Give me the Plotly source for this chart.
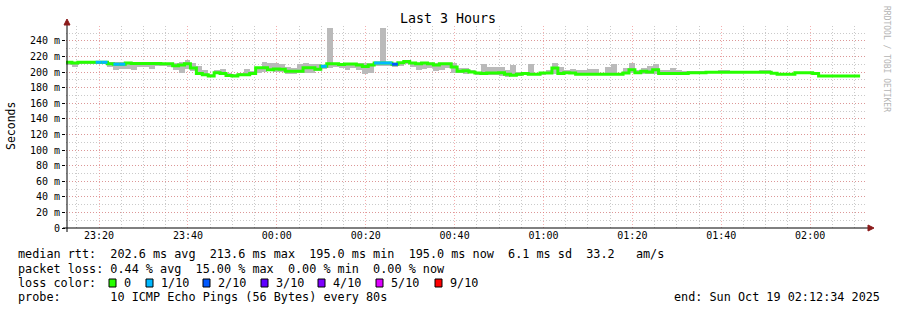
import pandas as pd
import plotly.graph_objects as go

# ---------------- data ----------------
start_time = "2025-10-18 23:12:34"
step_seconds = 80
n_slots = 135  # 3 hours / 80 s

median_ms = [
    212.5, 211.5, 212.5, 212.5, 212.5, 212.5, 212.5, 210.7, 210.0, 210.0,
    211.5, 211.0, 211.0, 211.0, 211.0, 211.0, 210.5, 210.5, 208.0, 209.0,
    210.7, 205.0, 198.0, 196.5, 195.0, 199.0, 198.0, 195.5, 195.0, 196.5,
    196.5, 198.0, 205.6, 205.6, 203.0, 204.0, 203.5, 201.0, 201.0, 201.0,
    205.5, 205.5, 203.5, 207.3, 210.7, 210.7, 209.5, 210.3, 210.3, 209.0,
    207.0, 209.0, 211.6, 211.6, 211.6, 210.0, 212.0, 213.6, 211.6, 210.7,
    211.6, 210.7, 209.0, 210.7, 210.7, 206.4, 201.0, 201.7, 200.0, 198.7,
    198.0, 198.7, 198.7, 199.0, 197.0, 195.7, 197.0, 198.0, 197.0, 197.0,
    198.7, 198.7, 205.0, 198.0, 199.0, 198.7, 197.0, 197.0, 197.0, 197.0,
    197.0, 197.0, 197.0, 197.0, 198.7, 203.0, 199.0, 201.0, 200.0, 203.0,
    198.0, 198.0, 198.0, 198.0, 198.0, 199.0, 199.0, 199.0, 199.6, 199.6,
    199.6, 199.6, 199.6, 199.6, 199.6, 199.6, 199.6, 199.6, 199.6, 198.3,
    197.0, 197.0, 197.0, 199.0, 199.0, 199.0, 198.0, 195.0, 195.0, 195.0,
    195.0, 195.0, 195.0, 195.0,
]

smoke_lo = [
    209, 206, 211, 211, 211, 211, 211, 207, 203, 204,
    204, 203, 207, 206, 204, 208, 208, 207, 202, 199,
    204, 201, 196, 196, 194.5, 197, 196, 194.5, 195, 196,
    196, 196, 199, 200, 201, 200, 200, 198, 198, 199,
    199, 199, 201, 204, 205, 206, 205, 203, 205, 203,
    198, 199, 208, 208, 208, 207, 208, 210, 207, 203,
    204, 205, 201, 203, 205, 199, 199, 198, 199, 197,
    196, 196, 196, 195, 194, 195, 195, 196, 196, 197,
    197, 197, 198, 198, 198, 197, 197, 197, 197, 197,
    197, 197, 197, 197, 197, 199, 197, 198, 197, 198,
    198, 198, 198, 198, 198, 199, 199, 199, 199.6, 199.6,
    199.6, 199.6, 199.6, 199.6, 199.6, 199.6, 199.6, 199.6, 199.6, 198.3,
    197, 197, 197, 199, 199, 199, 198, 195, 195, 195,
    195, 195, 195, 195,
]

smoke_hi = [
    213, 212, 213, 213, 213, 213, 213, 213, 213, 213,
    213, 212, 212, 212, 212, 212, 212, 212, 211, 213,
    215, 211, 208, 203, 197, 203, 204, 199, 197, 199,
    204, 201, 207, 213, 211, 212, 210, 206, 205, 210,
    211, 210, 210, 209, 257, 212, 211, 211, 212, 211,
    211, 212, 213, 257, 213, 212, 213, 214, 212, 211,
    213, 212, 211, 212, 212, 211, 205, 205, 203, 199,
    210, 207, 206, 207, 203, 209, 200, 199, 210, 199,
    199, 202, 212, 206, 203, 204, 203, 203, 204, 204,
    197, 206, 210, 197, 205.6, 212, 203, 205, 208, 210,
    203, 203, 205.6, 202, 201, 201, 201, 201, 199.6, 199.6,
    202, 202, 199.6, 199.6, 199.6, 199.6, 199.6, 202, 202, 198.3,
    197, 197, 197, 199, 199, 199, 198, 195, 195, 195,
    195, 195, 195, 195,
]

# packet loss (tenths) for slots that had losses; all others 0
loss_by_slot = {5: 1, 6: 1, 8: 1, 9: 1, 43: 1, 52: 1, 53: 1, 54: 1, 55: 2}

loss_labels = ["0", "1/10", "2/10", "3/10", "4/10", "5/10", "9/10"]
loss_levels = [0, 1, 2, 3, 4, 5, 9]
loss_colors = ["#26ff00", "#00b8ff", "#0059ff", "#5e00ff", "#7e00ff", "#dd00ff", "#ff0000"]

y_tick_vals = [0, 20, 40, 60, 80, 100, 120, 140, 160, 180, 200, 220, 240]
y_tick_text = ["0", "20 m", "40 m", "60 m", "80 m", "100 m", "120 m", "140 m",
               "160 m", "180 m", "200 m", "220 m", "240 m"]

title_text = "Last 3 Hours"
y_title = "Seconds"
legend_rows = [
    "median rtt:  202.6 ms avg  213.6 ms max  195.0 ms min  195.0 ms now  6.1 ms sd  33.2   am/s",
    "packet loss: 0.44 % avg  15.00 % max  0.00 % min  0.00 % now",
    "loss color:",
    "probe:       10 ICMP Echo Pings (56 Bytes) every 80s",
]
end_text = "end: Sun Oct 19 02:12:34 2025"
watermark = "RRDTOOL / TOBI OETIKER"

# ---------------- geometry ----------------
W, H = 897, 310
L, R, T, B = 66, 31, 26, 82
PW, PH = W - L - R, H - T - B
MONO = "DejaVu Sans Mono"


def px(x):
    return (x - L) / PW


def py(y):
    return (H - B - y) / PH


t0 = pd.Timestamp(start_time)
step = pd.Timedelta(seconds=step_seconds)
n = len(median_ms)
starts = [t0 + i * step for i in range(n + 1)]
centers = [t0 + (i + 0.5) * step for i in range(n)]
t_end = t0 + n_slots * step

fig = go.Figure()

# smoke (spread of the pings)
fig.add_trace(go.Bar(
    x=centers,
    y=[h - l for h, l in zip(smoke_hi, smoke_lo)],
    base=smoke_lo,
    width=step_seconds * 1000,
    marker=dict(color="#bababa", line=dict(width=0)),
    hoverinfo="skip",
    showlegend=False,
))

# median line (green, step)
fig.add_trace(go.Scatter(
    x=starts,
    y=median_ms + [median_ms[-1]],
    mode="lines",
    line=dict(color=loss_colors[0], width=3, shape="hv"),
    hoverinfo="skip",
    showlegend=False,
))

# loss-coloured median segments
for lvl, col in zip(loss_levels[1:], loss_colors[1:]):
    xs, ys = [], []
    for i, v in loss_by_slot.items():
        if v == lvl:
            xs += [starts[i], starts[i + 1], None]
            ys += [median_ms[i], median_ms[i], None]
    if xs:
        fig.add_trace(go.Scatter(x=xs, y=ys, mode="lines",
                                 line=dict(color=col, width=3),
                                 hoverinfo="skip", showlegend=False))

grid_major = "rgba(235,110,110,0.55)"
grid_minor = "rgba(150,150,150,0.5)"

fig.update_layout(
    width=W, height=H,
    margin=dict(l=L, r=R, t=T, b=B),
    paper_bgcolor="white", plot_bgcolor="white",
    bargap=0, barmode="overlay",
    xaxis=dict(
        type="date",
        range=[t0, t_end],
        tick0="2025-10-18 23:20:00",
        dtick=20 * 60 * 1000,
        tickformat="%H:%M",
        tickfont=dict(family=MONO, size=10, color="#000"),
        showgrid=True, gridcolor=grid_major, griddash="1px,2px", gridwidth=1,
        minor=dict(dtick=5 * 60 * 1000, showgrid=True, gridcolor=grid_minor,
                   griddash="1px,2px", gridwidth=1),
        zeroline=False, showline=False, ticks="",
        fixedrange=True,
    ),
    yaxis=dict(
        range=[0, 259],
        tickvals=y_tick_vals, ticktext=y_tick_text,
        tickfont=dict(family=MONO, size=10, color="#000"),
        showgrid=True, gridcolor=grid_major, griddash="1px,2px", gridwidth=1,
        minor=dict(dtick=10, showgrid=True, gridcolor=grid_minor,
                   griddash="1px,2px", gridwidth=1),
        zeroline=False, showline=False,
        ticks="outside", ticklen=3, tickcolor="#000",
        fixedrange=True,
    ),
)

shapes = []
# axes lines
shapes.append(dict(type="line", xref="paper", yref="paper",
                   x0=px(63), x1=px(869), y0=py(228), y1=py(228),
                   line=dict(color="#000", width=1)))
shapes.append(dict(type="line", xref="paper", yref="paper",
                   x0=px(67), x1=px(67), y0=py(232), y1=py(24),
                   line=dict(color="#000", width=1)))
# arrow heads
shapes.append(dict(type="path", xref="paper", yref="paper",
                   path=f"M {px(868)},{py(225)} L {px(874)},{py(228)} L {px(868)},{py(231)} Z",
                   fillcolor="#8b1a1a", line=dict(color="#8b1a1a", width=1)))
shapes.append(dict(type="path", xref="paper", yref="paper",
                   path=f"M {px(64)},{py(25)} L {px(67)},{py(19)} L {px(70)},{py(25)} Z",
                   fillcolor="#8b1a1a", line=dict(color="#8b1a1a", width=1)))

annotations = []


def nb(s):
    return s.replace(" ", "\u00a0")


annotations.append(dict(text=title_text, xref="paper", yref="paper",
                        x=px(448), y=py(19), xanchor="center", yanchor="middle",
                        showarrow=False, font=dict(family=MONO, size=13.3, color="#000")))
annotations.append(dict(text=y_title, xref="paper", yref="paper",
                        x=px(11), y=py(126), xanchor="center", yanchor="middle",
                        textangle=-90, showarrow=False,
                        font=dict(family=MONO, size=11.5, color="#000")))
annotations.append(dict(text=nb(watermark), xref="paper", yref="paper",
                        x=px(887), y=py(59), xanchor="center", yanchor="middle",
                        textangle=90, showarrow=False,
                        font=dict(family=MONO, size=8, color="#b4b4b4")))

row_y = [254.5, 268.5, 282.5, 296.5]
for txt, yy in zip(legend_rows, row_y):
    annotations.append(dict(text=nb(txt), xref="paper", yref="paper",
                            x=px(16), y=py(yy), xanchor="left", yanchor="middle",
                            showarrow=False,
                            font=dict(family=MONO, size=11.8, color="#000")))
annotations.append(dict(text=nb(end_text), xref="paper", yref="paper",
                        x=px(882), y=py(row_y[3]), xanchor="right", yanchor="middle",
                        showarrow=False, font=dict(family=MONO, size=11.8, color="#000")))

box_x = [109, 146, 203, 261, 318, 376, 435]
for bx, lab, col in zip(box_x, loss_labels, loss_colors):
    shapes.append(dict(type="rect", xref="paper", yref="paper",
                       x0=px(bx), x1=px(bx + 7), y0=py(287), y1=py(279),
                       fillcolor=col, line=dict(color="#000", width=1)))
    annotations.append(dict(text=lab, xref="paper", yref="paper",
                            x=px(bx + 13), y=py(row_y[2]), xanchor="left", yanchor="middle",
                            showarrow=False,
                            font=dict(family=MONO, size=11.8, color="#000")))

fig.update_layout(shapes=shapes, annotations=annotations)

fig.write_html("out.html")
